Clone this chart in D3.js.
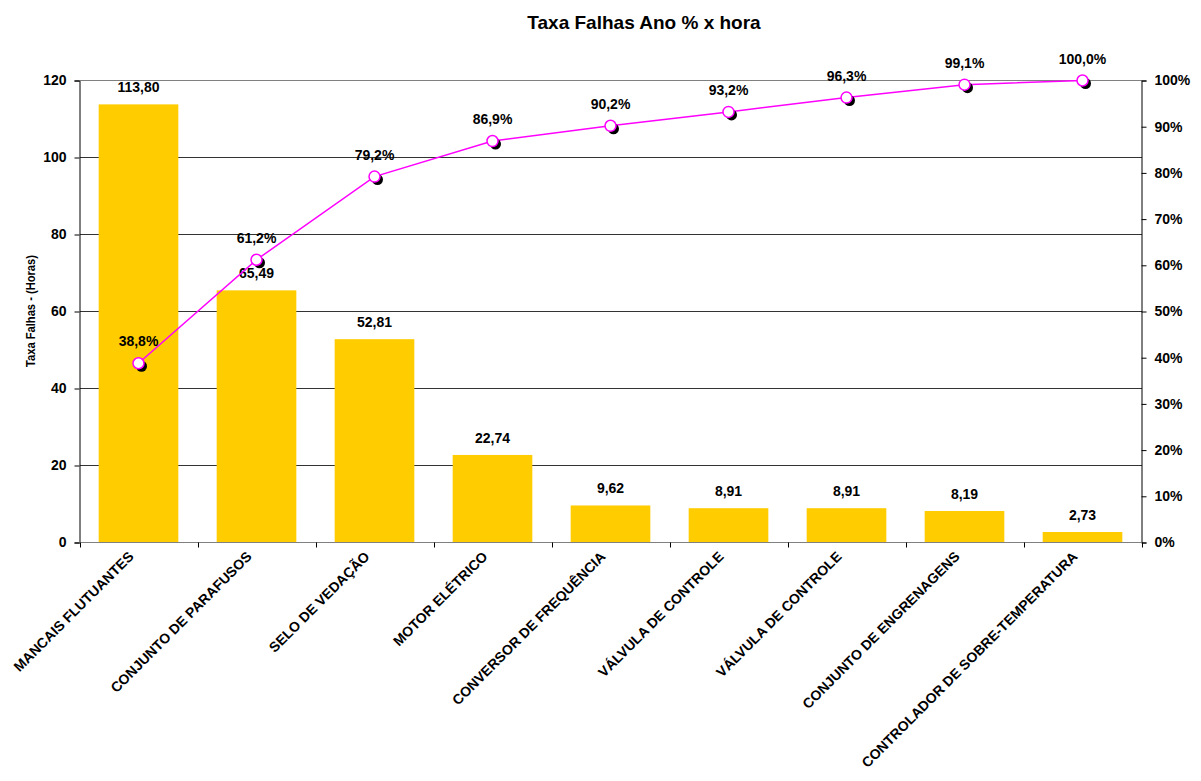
<!DOCTYPE html>
<html><head><meta charset="utf-8">
<script src="https://cdn.jsdelivr.net/npm/d3@7"></script>
<style>body{margin:0;background:#fff}svg{display:block;font-family:"Liberation Sans",Arial,sans-serif}</style>
</head><body><svg id="c" width="1201" height="781"></svg>
<script>
const categories = ["MANCAIS FLUTUANTES","CONJUNTO DE PARAFUSOS","SELO DE VEDAÇÃO","MOTOR ELÉTRICO","CONVERSOR DE FREQUÊNCIA","VÁLVULA DE CONTROLE","VÁLVULA DE CONTROLE ","CONJUNTO DE ENGRENAGENS","CONTROLADOR DE SOBRE-TEMPERATURA"];
const failureRates = [113.80,65.49,52.81,22.74,9.62,8.91,8.91,8.19,2.73];
const cumulativePct = [38.8,61.2,79.2,86.9,90.2,93.2,96.3,99.1,100.0];
const leftTicks = [0,20,40,60,80,100,120];
const rightTicks = [0,10,20,30,40,50,60,70,80,90,100];

const svg = d3.select("#c");
const L=79.5, R=1141.5, T=80.5, B=542.5;
const x = d3.scaleBand().domain(d3.range(categories.length)).range([L,R]).paddingInner(0.325).paddingOuter(0.1625);
const xb = d3.scaleBand().domain(d3.range(categories.length)).range([L,R]);
const y = d3.scaleLinear().domain([0,120]).range([B,T]);
const y2 = d3.scaleLinear().domain([0,100]).range([B,T]);
const fmt = v => v.toFixed(2).replace(".",",");
const fmtP = v => v.toFixed(1).replace(".",",")+"%";

// title
svg.append("text").attr("x",644).attr("y",29).attr("text-anchor","middle")
  .attr("font-size",19).attr("font-weight","bold").text("Taxa Falhas Ano % x hora");

// gridlines
svg.append("g").selectAll("line").data(leftTicks.filter(d=>d>0)).join("line")
  .attr("x1",L).attr("x2",R).attr("y1",d=>Math.floor(y(d))+0.5).attr("y2",d=>Math.floor(y(d))+0.5)
  .attr("stroke",d=>d===120?"#808080":"#333").attr("stroke-width",1).attr("shape-rendering","crispEdges");

// bars
svg.append("g").selectAll("rect").data(failureRates).join("rect")
  .attr("x",(d,i)=>x(i)).attr("width",x.bandwidth())
  .attr("y",d=>y(d)).attr("height",d=>B-y(d)).attr("fill","#FFCC00");

// bar labels
svg.append("g").selectAll("text").data(failureRates).join("text")
  .attr("x",(d,i)=>x(i)+x.bandwidth()/2).attr("y",d=>y(d)-12)
  .attr("text-anchor","middle").attr("font-size",14).attr("font-weight","bold").text(fmt);

// axes
const gl = svg.append("g").attr("transform",`translate(${L},0)`)
  .call(d3.axisLeft(y).tickValues(leftTicks).tickSize(5).tickPadding(8).tickFormat(d3.format("d")));
const gr = svg.append("g").attr("transform",`translate(${R},0)`)
  .call(d3.axisRight(y2).tickValues(rightTicks).tickSize(5).tickPadding(8).tickFormat(d=>d+"%"));
[gl,gr].forEach(g=>{g.selectAll("text").attr("font-size",14).attr("font-weight","bold").attr("fill","#000")
  .attr("font-family","Liberation Sans, Arial, sans-serif");
  g.select(".domain").attr("stroke","#000"); g.selectAll(".tick line").attr("stroke","#000");});
// bottom axis line with category boundary ticks
svg.append("line").attr("x1",L).attr("x2",R).attr("y1",B).attr("y2",B).attr("stroke","#808080");
svg.append("g").selectAll("line").data(d3.range(categories.length+1)).join("line")
  .attr("x1",i=>Math.round(L+i*xb.step())+0.5).attr("x2",i=>Math.round(L+i*xb.step())+0.5).attr("y1",B).attr("y2",B+5).attr("stroke","#000");

// category labels
svg.append("g").selectAll("text").data(categories).join("text")
  .attr("transform",(d,i)=>`translate(${xb(i)+xb.bandwidth()/2-4},${B+15}) rotate(-45)`)
  .attr("text-anchor","end").attr("font-size",14).attr("font-weight","bold").text(d=>d.trim());

// y axis title
svg.append("text").attr("transform","translate(35,311) rotate(-90)").attr("text-anchor","middle")
  .attr("font-size",13).attr("font-weight","bold").attr("textLength",112).attr("lengthAdjust","spacingAndGlyphs")
  .text("Taxa Falhas - (Horas)");

// cumulative line
const px = i => xb(i)+xb.bandwidth()/2;
svg.append("path").datum(cumulativePct)
  .attr("d",d3.line().x((d,i)=>px(i)).y(d=>y2(d)))
  .attr("fill","none").attr("stroke","#FF00FF").attr("stroke-width",1.5);
svg.append("g").selectAll("circle").data(cumulativePct).join("circle")
  .attr("cx",(d,i)=>px(i)+3).attr("cy",d=>y2(d)+3).attr("r",5.5).attr("fill","#000");
svg.append("g").selectAll("circle").data(cumulativePct).join("circle")
  .attr("cx",(d,i)=>px(i)).attr("cy",d=>y2(d)).attr("r",5.5).attr("fill","#fff").attr("stroke","#FF00FF").attr("stroke-width",1.5);
svg.append("g").selectAll("text").data(cumulativePct).join("text")
  .attr("x",(d,i)=>px(i)).attr("y",d=>y2(d)-17)
  .attr("text-anchor","middle").attr("font-size",14).attr("font-weight","bold").text(fmtP);
</script></body></html>
